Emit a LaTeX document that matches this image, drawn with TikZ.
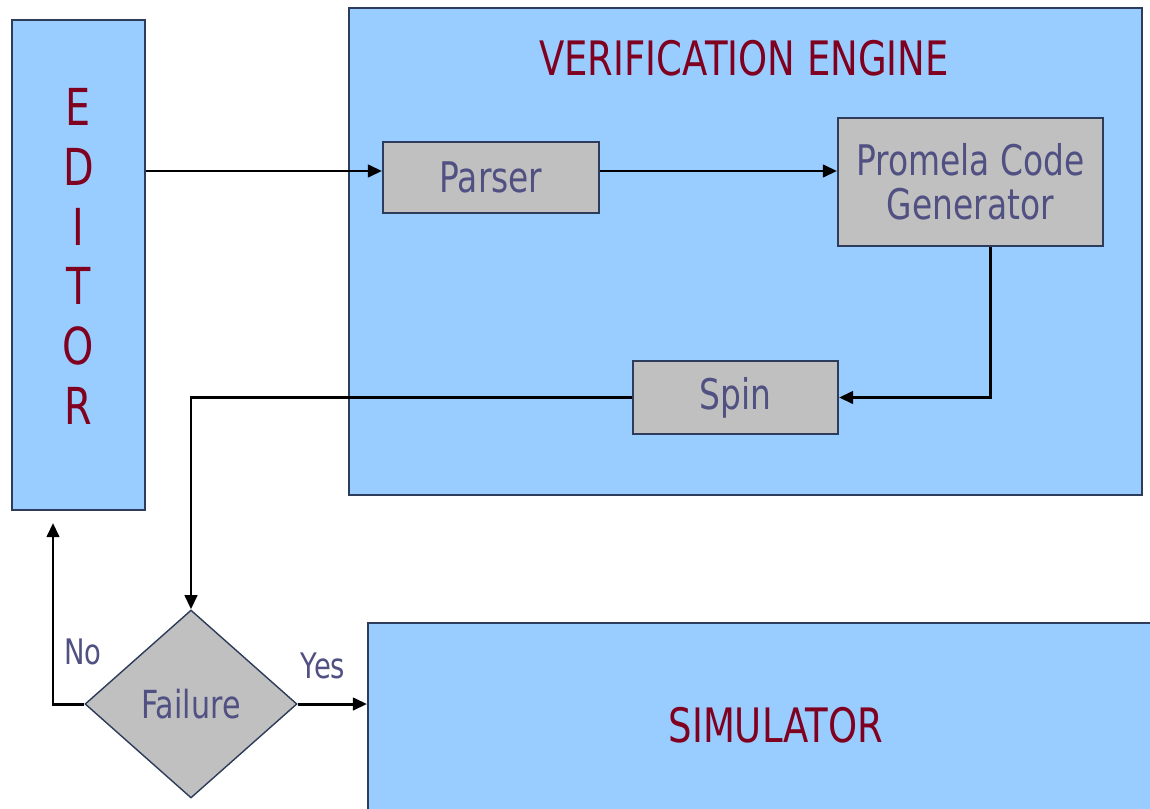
\documentclass[tikz,border=0pt]{standalone}
\usepackage{fontspec}
\setmainfont[FakeStretch=0.78]{DejaVu Sans}
\usepackage{tikz}
\usetikzlibrary{shapes.geometric, arrows.meta, positioning, calc}
\definecolor{myblue}{RGB}{153,204,255}
\definecolor{mygray}{RGB}{192,192,192}
\definecolor{myedge}{RGB}{45,60,90}
\definecolor{myred}{RGB}{128,0,32}
\definecolor{myslate}{RGB}{80,80,130}
\tikzset{
  panel/.style={rectangle, draw=myedge, fill=myblue, line width=1.1pt, inner sep=0pt},
  block/.style={rectangle, draw=myedge, fill=mygray, line width=1.1pt, align=center, inner sep=0pt,
    text=myslate, font=\fontsize{24}{25}\selectfont},
  arrow/.style={-{Triangle[length=8pt,width=7pt]}, line width=1.7pt, color=black},
  line/.style={line width=1.7pt, color=black}
}

\begin{document}
\begin{tikzpicture}[
  letters/.style={text=myred, font=\fontsize{29}{34}\selectfont, align=center},
  heading/.style={text=myred, font=\fontsize{27}{30}\selectfont},
  decision/.style={diamond, draw=myedge, fill=mygray, line width=0.8pt, minimum width=4.24cm,
    minimum height=3.76cm, inner sep=0pt, text=myslate, font=\fontsize{22}{24}\selectfont},
  answer/.style={text=myslate, font=\fontsize{20}{22}\selectfont}
]
\useasboundingbox (0,0) rectangle (23,-16.16);
\clip (0,0) rectangle (23,-16.16);
% outer panels
\node[panel, minimum width=2.66cm, minimum height=9.8cm] (editor) at (1.57,-5.30) {};
\node[letters] (editortext) at ([yshift=0.17cm]editor.center) {E\\D\\I\\T\\O\\R};
\node[panel, minimum width=15.86cm, minimum height=9.74cm] (engine) at (14.91,-5.03) {};
\node[heading, anchor=base] (enginetitle) at (14.88,-1.50) {VERIFICATION ENGINE};
\node[panel, heading, minimum width=16.32cm, minimum height=4.08cm] (simulator) at (15.52,-14.50) {SIMULATOR};
% engine parts
\node[block, minimum width=4.32cm, minimum height=1.42cm] (parser) at (9.82,-3.55) {Parser};
\node[block, minimum width=5.30cm, minimum height=2.56cm] (promela) at (19.41,-3.64) {Promela Code\\Generator};
\node[block, minimum width=4.10cm, minimum height=1.46cm] (spin) at (14.71,-7.95) {Spin};
\node[decision] (failure) at (3.82,-14.08) {Failure};
\node[answer] (no) at (1.66,-13.04) {No};
\node[answer] (yes) at (6.46,-13.32) {Yes};
% flow
\coordinate (flow) at (0,-3.42);
\draw[arrow] (editor.east |- flow) -- (parser.west |- flow);
\draw[arrow] (parser.east |- flow) -- (promela.west |- flow);
\draw[arrow] ([xshift=0.39cm]promela.south) |- (spin.east);
\draw[arrow] (spin.west) -| (failure.north);
\draw[arrow, shorten >=0.24cm] (failure.west) -| ([xshift=-0.51cm]editor.south);
\draw[arrow] (failure.east) -- (failure.east -| simulator.west);
\end{tikzpicture}
\end{document}
